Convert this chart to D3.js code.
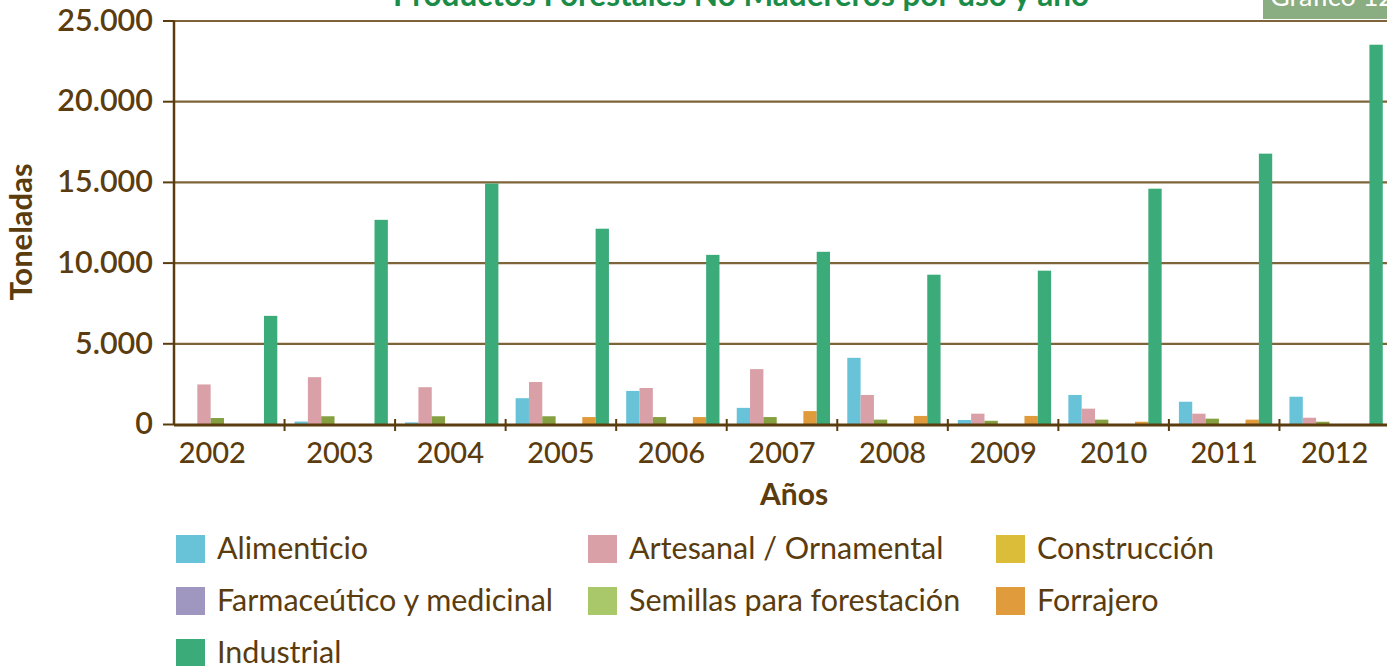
<!DOCTYPE html>
<html>
<head>
<meta charset="utf-8">
<script src="https://cdn.jsdelivr.net/npm/d3@7"></script>
<style>
  body { margin: 0; background: #fff; }
  svg { display: block; font-family: Lato, "Open Sans", sans-serif; }
</style>
</head>
<body>
<svg id="chart"></svg>
<script>
const years = ['2002', '2003', '2004', '2005', '2006', '2007', '2008', '2009', '2010', '2011', '2012'];

// series in the order the bars sit inside each year group
const series = ['Alimenticio', 'Artesanal / Ornamental', 'Semillas para forestación',
    'Construcción', 'Farmaceútico y medicinal', 'Forrajero', 'Industrial'];

const alimenticio = [0, 150, 100, 1600, 2050, 1000, 4100, 250, 1800, 1380, 1690];
const artesanal = [2450, 2900, 2280, 2600, 2230, 3400, 1800, 640, 950, 640, 390];
const semillas = [370, 480, 480, 480, 430, 430, 270, 200, 270, 330, 140];
const construccion = [0, 0, 0, 0, 0, 0, 0, 0, 0, 0, 0];
const farmaceutico = [0, 0, 0, 0, 0, 0, 0, 0, 0, 0, 0];
const forrajero = [0, 0, 0, 430, 430, 800, 500, 500, 140, 270, 0];
const industrial = [6700, 12650, 14900, 12100, 10480, 10670, 9250, 9500, 14580, 16750, 23500];

const yTicks = [0, 5000, 10000, 15000, 20000, 25000];

const legendOrder = ['Alimenticio', 'Artesanal / Ornamental', 'Construcción',
    'Farmaceútico y medicinal', 'Semillas para forestación', 'Forrajero', 'Industrial'];

const barColors = {
    'Alimenticio': '#68c3d8',
    'Artesanal / Ornamental': '#d9a0a8',
    'Semillas para forestación': '#84a040',
    'Construcción': '#dbbd3a',
    'Farmaceútico y medicinal': '#9f97bf',
    'Forrajero': '#e09c3c',
    'Industrial': '#3cab7a'
};
const legendColors = Object.assign({}, barColors, {'Semillas para forestación': '#a8c86a'});

const values = {
    'Alimenticio': alimenticio,
    'Artesanal / Ornamental': artesanal,
    'Semillas para forestación': semillas,
    'Construcción': construccion,
    'Farmaceútico y medicinal': farmaceutico,
    'Forrajero': forrajero,
    'Industrial': industrial
};

const brown = '#5a3c0e';
const grid = '#7e6438';

const svg = d3.select('#chart')
    .attr('width', 1387)
    .attr('height', 666);

const plotLeft = 174, plotRight = 1390, plotTop = 20.5, plotBottom = 424;

const x = d3.scaleBand().domain(years).range([plotLeft, plotRight]);
const xi = d3.scaleBand().domain(series).range([10, 103.3]);
const y = d3.scaleLinear().domain([0, 25000]).range([plotBottom, plotTop]);

const locale = d3.formatLocale({decimal: ',', thousands: '.', grouping: [3], currency: ['', '']});
const fmt = locale.format(',');

// title (cut off at the top edge)
svg.append('text')
    .attr('x', 741)
    .attr('y', 6)
    .attr('text-anchor', 'middle')
    .attr('font-size', '31.5px')
    .attr('font-weight', 'bold')
    .attr('fill', '#1b8c47')
    .text('Productos Forestales No Madereros por uso y año');

svg.append('rect')
    .attr('x', 1263).attr('y', 0)
    .attr('width', 130).attr('height', 19)
    .attr('fill', '#8aae82');
svg.append('text')
    .attr('x', 1270).attr('y', 6)
    .attr('font-size', '27px')
    .attr('fill', '#fff')
    .text('Gráfico 12');

// gridlines
svg.append('g')
    .attr('transform', `translate(${plotLeft},0)`)
    .call(d3.axisLeft(y).tickValues(yTicks.slice(1)).tickSize(-(1387 - plotLeft)).tickFormat(''))
    .call(g => g.select('.domain').remove())
    .call(g => g.selectAll('line').attr('stroke', grid).attr('stroke-width', 2.2));

// y axis
svg.append('g')
    .attr('transform', `translate(${plotLeft},0)`)
    .call(d3.axisLeft(y).tickValues(yTicks).tickSize(11).tickPadding(10).tickFormat(fmt))
    .call(g => g.select('.domain').attr('stroke', brown).attr('stroke-width', 2.5)
        .attr('d', `M0,${plotTop}V${plotBottom}`))
    .call(g => g.selectAll('.tick line').attr('stroke', brown).attr('stroke-width', 2))
    .call(g => g.selectAll('.tick text')
        .attr('fill', brown)
        .attr('font-size', '30.5px')
        .attr('font-weight', 600)
        .attr('font-family', 'Lato, sans-serif'));

// bars
const groups = svg.append('g')
    .selectAll('g')
    .data(years)
    .enter()
    .append('g')
    .attr('transform', d => `translate(${x(d)},0)`);

groups.selectAll('rect')
    .data((d, i) => series.map(s => ({key: s, value: values[s][i]})))
    .enter()
    .append('rect')
    .attr('x', d => xi(d.key))
    .attr('width', xi.bandwidth())
    .attr('y', d => y(d.value))
    .attr('height', d => plotBottom - y(d.value))
    .attr('fill', d => barColors[d.key]);

// x axis baseline and boundary ticks
svg.append('line')
    .attr('x1', plotLeft).attr('x2', 1387)
    .attr('y1', plotBottom + 1).attr('y2', plotBottom + 1)
    .attr('stroke', brown).attr('stroke-width', 3);

svg.append('g')
    .selectAll('line')
    .data(years.slice(1))
    .enter()
    .append('line')
    .attr('x1', d => x(d)).attr('x2', d => x(d))
    .attr('y1', plotBottom - 5).attr('y2', plotBottom + 7)
    .attr('stroke', brown).attr('stroke-width', 2);

svg.append('g')
    .selectAll('text')
    .data(years)
    .enter()
    .append('text')
    .attr('x', (d, i) => x(d) + x.bandwidth() / 2 - (i === 0 ? 17 : 0))
    .attr('y', 463)
    .attr('text-anchor', 'middle')
    .attr('font-size', '29px')
    .attr('font-weight', 500)
    .attr('fill', brown)
    .text(d => d);

// axis titles
svg.append('text')
    .attr('x', 794).attr('y', 505)
    .attr('text-anchor', 'middle')
    .attr('font-size', '30px')
    .attr('font-weight', 'bold')
    .attr('fill', brown)
    .text('Años');

svg.append('text')
    .attr('transform', 'translate(32,232) rotate(-90)')
    .attr('text-anchor', 'middle')
    .attr('font-size', '31px')
    .attr('font-weight', 'bold')
    .attr('fill', brown)
    .text('Toneladas');

// legend
const colX = [176, 588, 996];
const legend = svg.append('g')
    .selectAll('g')
    .data(legendOrder)
    .enter()
    .append('g')
    .attr('transform', (d, i) => `translate(${colX[i % 3]},${535 + Math.floor(i / 3) * 52})`);

legend.append('rect')
    .attr('width', 29).attr('height', 28)
    .attr('fill', d => legendColors[d]);

legend.append('text')
    .attr('x', 41).attr('y', 24)
    .attr('font-size', '30.5px')
    .attr('fill', brown)
    .text(d => d);
</script>
</body>
</html>
